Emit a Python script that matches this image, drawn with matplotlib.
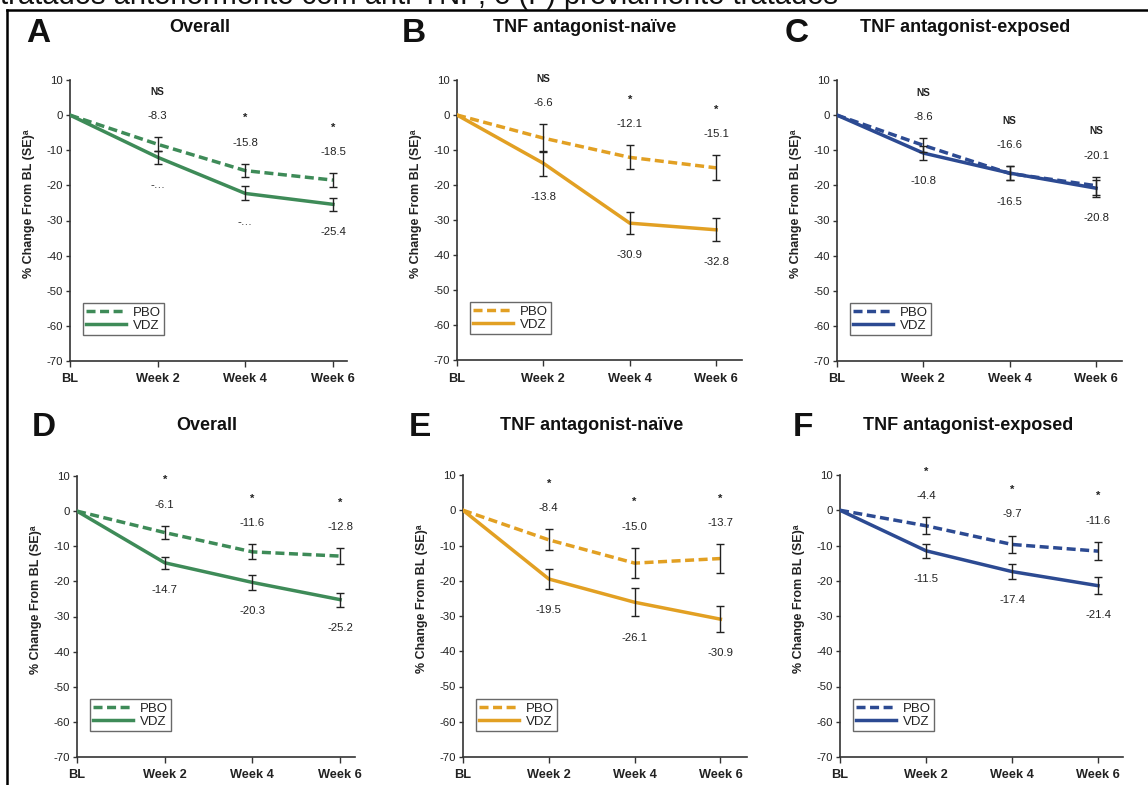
import matplotlib
matplotlib.use("Agg")
import matplotlib.pyplot as plt
from matplotlib.lines import Line2D

plt.rcParams['font.family'] = ['Liberation Sans', 'DejaVu Sans']
plt.rcParams['axes.unicode_minus'] = False

W, H = 1148, 785

weeks = ["BL", "Week 2", "Week 4", "Week 6"]
series_names = ["PBO", "VDZ"]

panel_letters = ["A", "B", "C", "D", "E", "F"]
panel_titles = ["Overall", "TNF antagonist-naïve", "TNF antagonist-exposed",
                "Overall", "TNF antagonist-naïve", "TNF antagonist-exposed"]

pbo_A = [0, -8.3, -15.8, -18.5]
pbo_se_A = [0, 2.0, 1.9, 2.0]
vdz_A = [0, -12.0, -22.3, -25.4]
vdz_se_A = [0, 1.8, 2.0, 1.9]
sig_A = ["NS", "*", "*"]
pbo_lbl_A = ["-8.3", "-15.8", "-18.5"]
vdz_lbl_A = ["-…", "-…", "-25.4"]

pbo_B = [0, -6.6, -12.1, -15.1]
pbo_se_B = [0, 3.9, 3.4, 3.6]
vdz_B = [0, -13.8, -30.9, -32.8]
vdz_se_B = [0, 3.6, 3.2, 3.3]
sig_B = ["NS", "*", "*"]
pbo_lbl_B = ["-6.6", "-12.1", "-15.1"]
vdz_lbl_B = ["-13.8", "-30.9", "-32.8"]

pbo_C = [0, -8.6, -16.6, -20.1]
pbo_se_C = [0, 2.0, 2.0, 2.5]
vdz_C = [0, -10.8, -16.5, -20.8]
vdz_se_C = [0, 2.0, 2.1, 2.4]
sig_C = ["NS", "NS", "NS"]
pbo_lbl_C = ["-8.6", "-16.6", "-20.1"]
vdz_lbl_C = ["-10.8", "-16.5", "-20.8"]

pbo_D = [0, -6.1, -11.6, -12.8]
pbo_se_D = [0, 1.9, 2.1, 2.3]
vdz_D = [0, -14.7, -20.3, -25.2]
vdz_se_D = [0, 1.7, 2.1, 2.0]
sig_D = ["*", "*", "*"]
pbo_lbl_D = ["-6.1", "-11.6", "-12.8"]
vdz_lbl_D = ["-14.7", "-20.3", "-25.2"]

pbo_E = [0, -8.4, -15.0, -13.7]
pbo_se_E = [0, 3.0, 4.3, 4.0]
vdz_E = [0, -19.5, -26.1, -30.9]
vdz_se_E = [0, 2.7, 4.0, 3.6]
sig_E = ["*", "*", "*"]
pbo_lbl_E = ["-8.4", "-15.0", "-13.7"]
vdz_lbl_E = ["-19.5", "-26.1", "-30.9"]

pbo_F = [0, -4.4, -9.7, -11.6]
pbo_se_F = [0, 2.4, 2.5, 2.6]
vdz_F = [0, -11.5, -17.4, -21.4]
vdz_se_F = [0, 2.0, 2.2, 2.4]
sig_F = ["*", "*", "*"]
pbo_lbl_F = ["-4.4", "-9.7", "-11.6"]
vdz_lbl_F = ["-11.5", "-17.4", "-21.4"]

yticks = [10, 0, -10, -20, -30, -40, -50, -60, -70]
ylabel = "% Change From BL (SE)ᵃ"
caption = "tratados anteriormente com anti-TNF; e (F) previamente tratados"

panels = [
    (pbo_A, pbo_se_A, vdz_A, vdz_se_A, sig_A, pbo_lbl_A, vdz_lbl_A),
    (pbo_B, pbo_se_B, vdz_B, vdz_se_B, sig_B, pbo_lbl_B, vdz_lbl_B),
    (pbo_C, pbo_se_C, vdz_C, vdz_se_C, sig_C, pbo_lbl_C, vdz_lbl_C),
    (pbo_D, pbo_se_D, vdz_D, vdz_se_D, sig_D, pbo_lbl_D, vdz_lbl_D),
    (pbo_E, pbo_se_E, vdz_E, vdz_se_E, sig_E, pbo_lbl_E, vdz_lbl_E),
    (pbo_F, pbo_se_F, vdz_F, vdz_se_F, sig_F, pbo_lbl_F, vdz_lbl_F),
]

colors = ["#3e8b58", "#e2a023", "#2c4a92", "#3e8b58", "#e2a023", "#2c4a92"]

# axes rectangles in pixels: left, top, right, bottom ; x right limit
rects = [
    (70, 80, 347, 361, 3.16),
    (457, 80, 742, 360, 3.30),
    (837, 80, 1122, 361, 3.30),
    (77, 476, 355, 757, 3.17),
    (463, 475, 747, 757, 3.31),
    (840, 475, 1123, 757, 3.29),
]
letter_pos = [(38, 33), (414, 33), (797, 33), (44, 428), (420, 428), (803, 428)]
title_pos = [(200, 28), (585, 28), (965, 27), (207, 425), (592, 425), (968, 425)]

fig = plt.figure(figsize=(W / 100, H / 100), dpi=100)

# caption cut at top (as in the reference, only its lower part is visible)
fig.text(0.0, 1 - 4 / H, caption, fontsize=21, ha='left', va='baseline', color='#111')
# outer frame
fig.add_artist(Line2D([7 / W, 7 / W], [0, 1 - 10 / H], transform=fig.transFigure, color='black', lw=1.8))
fig.add_artist(Line2D([7 / W, 1], [1 - 10 / H, 1 - 10 / H], transform=fig.transFigure, color='black', lw=1.8))

x = list(range(len(weeks)))

for i, (pbo, pse, vdz, vse, sig, plbl, vlbl) in enumerate(panels):
    l, t, r, b, xr = rects[i]
    ax = fig.add_axes([l / W, 1 - b / H, (r - l) / W, (b - t) / H])
    c = colors[i]
    ax.plot(x, pbo, color=c, lw=2.5, linestyle=(0, (2.6, 1.3)), label=series_names[0], zorder=3)
    ax.plot(x, vdz, color=c, lw=2.5, linestyle='-', label=series_names[1], zorder=3)
    ax.errorbar(x[1:], pbo[1:], yerr=pse[1:], fmt='none', ecolor='#222', elinewidth=1.0,
                capsize=2.8, capthick=1.0, zorder=4)
    ax.errorbar(x[1:], vdz[1:], yerr=vse[1:], fmt='none', ecolor='#222', elinewidth=1.0,
                capsize=2.8, capthick=1.0, zorder=4)
    for j in range(1, len(weeks)):
        ytop = pbo[j] + pse[j] + 6.0
        ax.text(x[j], ytop, plbl[j - 1], ha='center', va='center', fontsize=8.2, color='#222')
        ax.text(x[j], ytop + 7.0, sig[j - 1], ha='center', va='center',
                fontsize=8 if sig[j - 1] == "*" else 7.2, fontweight='bold', color='#222')
        ybot = vdz[j] - vse[j] - 6.0
        ax.text(x[j], ybot, vlbl[j - 1], ha='center', va='center', fontsize=8.2, color='#222')

    ax.set_xlim(0, xr)
    ax.set_ylim(-70, 10)
    ax.set_yticks(yticks)
    ax.set_xticks(x)
    ax.set_xticklabels(weeks, fontsize=9.2, fontweight='bold')
    ax.tick_params(axis='y', labelsize=8.2, length=3, width=1, direction='out', pad=2, colors='#333',
                   labelcolor='#222')
    ax.tick_params(axis='x', length=4, width=1, direction='out', pad=5, colors='#333', labelcolor='#222')
    for s in ['top', 'right']:
        ax.spines[s].set_visible(False)
    for s in ['left', 'bottom']:
        ax.spines[s].set_color('#333')
        ax.spines[s].set_linewidth(1.2)
    ax.set_ylabel(ylabel, fontsize=9, fontweight='bold', color='#222')
    ax.yaxis.set_label_coords(-35 / (r - l), 0.56)
    ax.set_facecolor('none')

    leg = ax.legend(loc='lower left', bbox_to_anchor=(13 / (r - l), 26 / (b - t)), fontsize=9.5,
                    frameon=True, fancybox=False, handlelength=3.0, handletextpad=0.5,
                    borderpad=0.25, labelspacing=0.05, borderaxespad=0)
    leg.get_frame().set_edgecolor('#444')
    leg.get_frame().set_linewidth(1.0)
    for txt in leg.get_texts():
        txt.set_color('#222')

    lx, ly = letter_pos[i]
    fig.text(lx / W, 1 - ly / H, panel_letters[i], fontsize=24, fontweight='bold', ha='center', va='center',
             color='#111')
    tx, ty = title_pos[i]
    fig.text(tx / W, 1 - ty / H, panel_titles[i], fontsize=13, fontweight='bold', ha='center', va='center',
             color='#111')

fig.savefig("out.png", dpi=100, facecolor='white')
